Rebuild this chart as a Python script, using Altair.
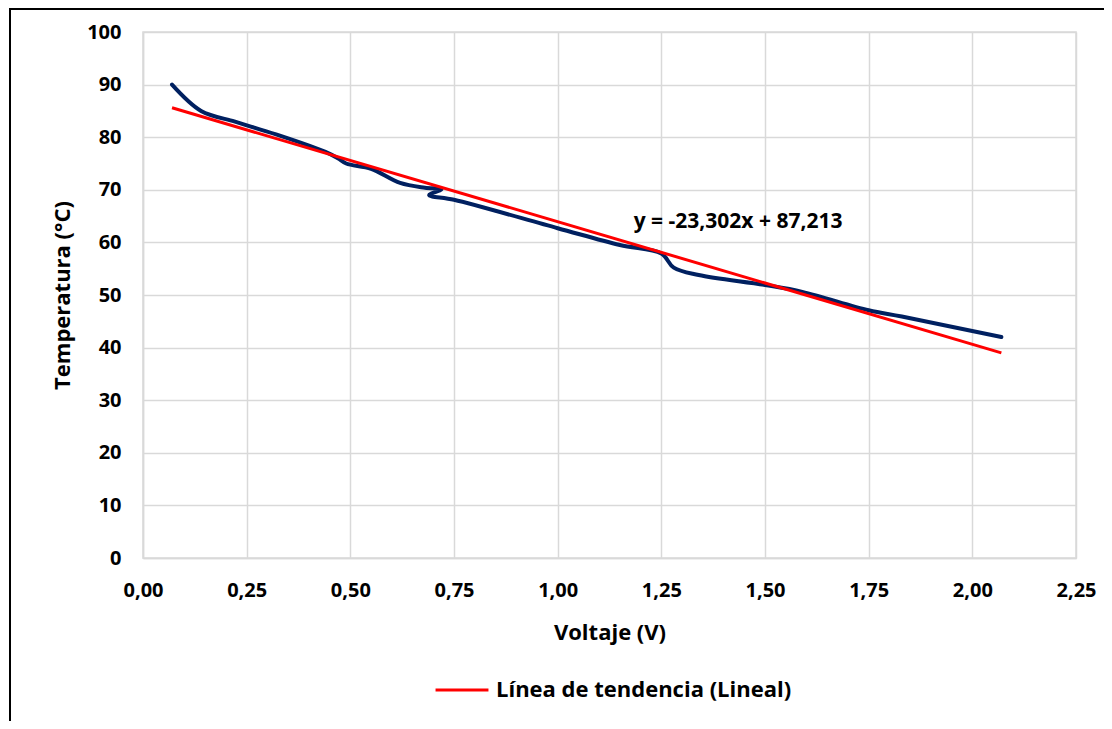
import altair as alt
import pandas as pd

VOLTAJE = [0.07, 0.14, 0.22, 0.26, 0.33, 0.44, 0.47, 0.49, 0.55, 0.62, 0.68, 0.72,
           0.69, 0.75, 1.00, 1.15, 1.25, 1.28, 1.34, 1.50, 1.59, 1.75, 1.83, 2.07]
TEMPERATURA = [90.0, 85.0, 83.0, 82.0, 80.3, 77.2, 76.0, 75.0, 74.0, 71.3, 70.4, 70.1,
               69.0, 68.1, 62.7, 59.5, 57.9, 55.2, 53.8, 51.9, 50.6, 47.1, 45.9, 42.0]

# Linear trend line end points
TREND_V = [0.07, 2.07]
TREND_T = [85.6, 39.0]
TREND_NAME = "Línea de tendencia (Lineal)"

EQUATION = "y = -23,302x + 87,213"
EQ_V, EQ_T = 1.435, 63.9

X_TICKS = [0, 0.25, 0.5, 0.75, 1.0, 1.25, 1.5, 1.75, 2.0, 2.25]
Y_TICKS = [0, 10, 20, 30, 40, 50, 60, 70, 80, 90, 100]

FONT = "Open Sans"
W, H = 933, 526

data = pd.DataFrame({"v": VOLTAJE, "t": TEMPERATURA, "i": list(range(len(VOLTAJE)))})
trend = pd.DataFrame({"v": TREND_V, "t": TREND_T, "s": [TREND_NAME] * len(TREND_V)})
eq = pd.DataFrame({"v": [EQ_V], "t": [EQ_T], "label": [EQUATION]})

x_scale = alt.Scale(domain=[0, 2.25], nice=False, zero=False)
y_scale = alt.Scale(domain=[0, 100], nice=False)

x_axis = alt.Axis(
    values=X_TICKS, title="Voltaje (V)", grid=True, ticks=False,
    labelExpr="replace(format(datum.value, '.2f'), '.', ',')",
    labelFlush=False, labelOverlap=False,
    labelPadding=22, titleX=W / 2, titleY=74, titleBaseline="middle",
)
y_axis = alt.Axis(
    values=Y_TICKS, title="Temperatura (°C)", grid=True, ticks=False,
    labelFlush=False, labelOverlap=False,
    labelPadding=22, titleX=-81, titleY=H / 2, titleAngle=270,
    titleBaseline="middle", titleAlign="center",
)

base = alt.Chart(data)

curve = base.mark_line(color="#002060", strokeWidth=4, interpolate="catmull-rom",
                       strokeCap="round").encode(
    x=alt.X("v:Q", scale=x_scale, axis=x_axis),
    y=alt.Y("t:Q", scale=y_scale, axis=y_axis),
    order="i:Q",
)

trend_line = alt.Chart(trend).mark_line(strokeWidth=3).encode(
    x=alt.X("v:Q", scale=x_scale),
    y=alt.Y("t:Q", scale=y_scale),
    color=alt.Color(
        "s:N",
        scale=alt.Scale(domain=[TREND_NAME], range=["#ff0000"]),
        legend=alt.Legend(
            title=None, orient="none", legendX=291, legendY=104 + H,
            symbolType="stroke", symbolSize=2800, symbolStrokeWidth=3,
            labelFont=FONT, labelFontSize=22, labelFontWeight="bold",
            labelColor="#000000", labelOffset=6, labelLimit=500,
        ),
    ),
)

eq_text = alt.Chart(eq).mark_text(font=FONT, fontSize=21, fontWeight="bold",
                                  color="#000000").encode(
    x=alt.X("v:Q", scale=x_scale),
    y=alt.Y("t:Q", scale=y_scale),
    text="label:N",
)

frame_left = alt.Chart(eq).mark_rule(color="#000000", strokeWidth=2, clip=False).encode(
    x=alt.value(-133), y=alt.value(-24), y2=alt.value(H + 200)
)
frame_top = alt.Chart(eq).mark_rule(color="#000000", strokeWidth=2, clip=False).encode(
    x=alt.value(-134), x2=alt.value(W + 100), y=alt.value(-23)
)

chart = alt.layer(curve, trend_line, eq_text, frame_left, frame_top).properties(
    width=W, height=H,
    autosize=alt.AutoSizeParams(type="none"),
    padding={"left": 135, "top": 24, "right": 28, "bottom": 163},
).configure_axis(
    labelFont=FONT, labelFontSize=20, labelFontWeight="bold", labelColor="#000000",
    titleFont=FONT, titleFontSize=22, titleFontWeight="bold", titleColor="#000000",
    gridColor="#d9d9d9", gridWidth=1.5, domainColor="#d9d9d9", domainWidth=1.5,
).configure_view(stroke="#d9d9d9", strokeWidth=1.5)

chart.save("out.html", embed_options={"renderer": "svg", "actions": False})
